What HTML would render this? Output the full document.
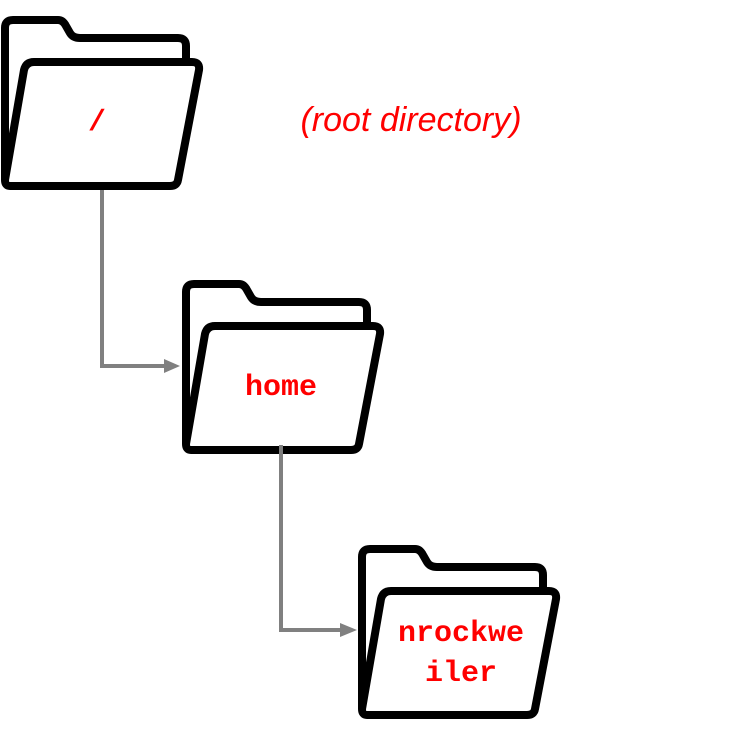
<!DOCTYPE html>
<html><head><style>html,body{margin:0;padding:0;background:#fff;}svg{display:block;}</style></head>
<body>
<svg width="750" height="733" viewBox="0 0 750 733" xmlns="http://www.w3.org/2000/svg">
<defs>
<g id="f" fill="#fff" stroke="#000" stroke-width="8" stroke-linejoin="round">
<path d="M5,180 V28 Q5,20 13,20 H58 Q63,20 66,26 L70,33 Q73,38 80,38 H178 Q186,38 186,46 V70"/>
<path d="M5,180 L24,70 Q26,62 34,62 H192 Q200,62 199,70 L178,180 Q177,186 170,186 H10 Q5,186 5,180Z"/>
</g>
</defs>
<use href="#f"/>
<use href="#f" transform="translate(181,264)"/>
<use href="#f" transform="translate(357,529)"/>
<g fill="none" stroke="#808080" stroke-width="4">
<polyline points="102,190 102,366 166,366"/>
<polyline points="281,445 281,630 343,630"/>
</g>
<polygon points="164,359 180,366 164,373" fill="#808080"/>
<polygon points="340,623 357,630 340,637" fill="#808080"/>
<g fill="#f00" font-family="Liberation Mono, monospace" font-weight="bold" font-size="30" text-anchor="middle">
<text x="97" y="130">/</text>
<text x="281" y="395">home</text>
<text x="461" y="641">nrockwe</text>
<text x="461" y="681">iler</text>
</g>
<text x="411" y="131" fill="#f00" font-family="Liberation Sans, sans-serif" font-style="italic" font-size="34" text-anchor="middle">(root directory)</text>
</svg>
</body></html>
